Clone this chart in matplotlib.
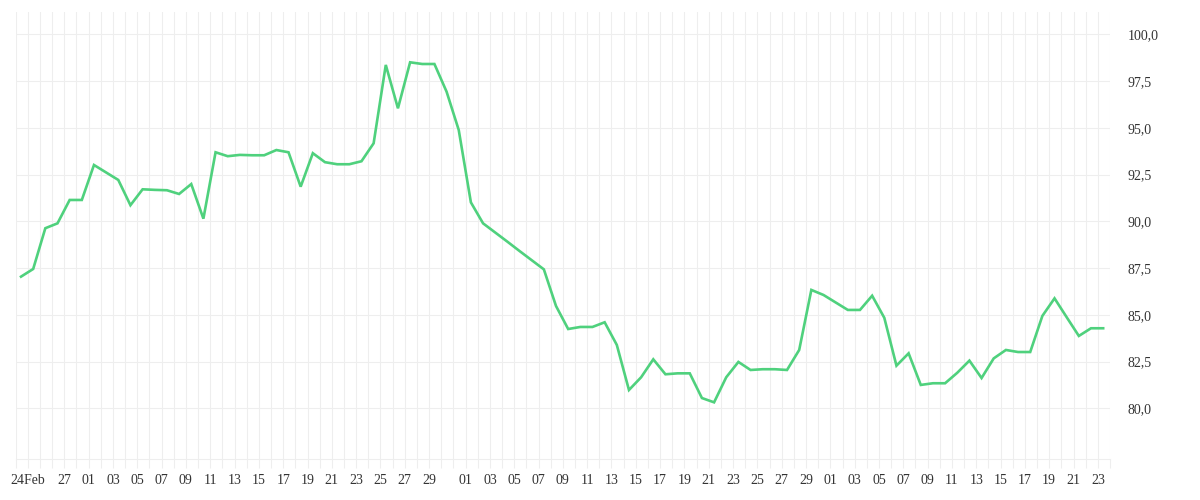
import numpy as np
import pandas as pd
import matplotlib
matplotlib.use("Agg")
import matplotlib.pyplot as plt
import matplotlib.dates as mdates
from matplotlib.ticker import FixedLocator, FuncFormatter

# daily values, first point 23 Feb 2023
start_day = "2023-02-23"
values = [
    87.04, 87.45, 89.63, 89.89, 91.14, 91.14, 93.01, 92.61, 92.21, 90.86,
    91.71, 91.68, 91.66, 91.46, 91.99, 90.14, 93.69, 93.48, 93.55, 93.53,
    93.53, 93.81, 93.69, 91.85, 93.64, 93.16, 93.05, 93.05, 93.21, 94.17,
    98.36, 96.04, 98.50, 98.41, 98.41, 96.93, 94.88, 91.01, 89.89, 89.40,
    88.91, 88.41, 87.92, 87.43, 85.47, 84.24, 84.35, 84.35, 84.60, 83.39,
    80.98, 81.66, 82.62, 81.82, 81.87, 81.87, 80.55, 80.32, 81.66, 82.48,
    82.05, 82.09, 82.09, 82.05, 83.12, 86.33, 86.06, 85.66, 85.26, 85.26,
    86.02, 84.84, 82.28, 82.94, 81.25, 81.34, 81.34, 81.90, 82.55, 81.62,
    82.67, 83.12, 83.01, 83.01, 84.94, 85.88, 84.87, 83.87, 84.28, 84.28,
]

tick_days = (["2023-02-24", "2023-02-27"]
             + [f"2023-03-{d:02d}" for d in range(1, 30, 2)]
             + [f"2023-04-{d:02d}" for d in range(1, 30, 2)]
             + [f"2023-05-{d:02d}" for d in range(1, 24, 2)])
y_ticks = [80.0, 82.5, 85.0, 87.5, 90.0, 92.5, 95.0, 97.5, 100.0]

line_color = "#4fd17d"
grid_color = "#eeeeee"
text_color = "#333333"

dates = pd.date_range(start_day, periods=len(values), freq="D")
x = mdates.date2num(dates + pd.Timedelta(hours=10.5))

fig = plt.figure(figsize=(12, 5), dpi=100)
ax = fig.add_axes([15.7 / 1200, 41 / 500, 1094.3 / 1200, 447 / 500])

ax.plot(x, values, color=line_color, lw=1.9, solid_joinstyle="miter", zorder=3)

ax.set_xlim(mdates.date2num(pd.Timestamp("2023-02-23")),
            mdates.date2num(pd.Timestamp("2023-05-24")))
ax.set_ylim(77.29, 101.19)

tick_pos = mdates.date2num(pd.to_datetime(tick_days))
tick_labels = ["24Feb"] + [pd.Timestamp(d).strftime("%d") for d in tick_days[1:]]
ax.xaxis.set_major_locator(FixedLocator(tick_pos))
ax.set_xticklabels(tick_labels)
ax.xaxis.set_minor_locator(mdates.DayLocator())

ax.yaxis.tick_right()
ax.yaxis.set_major_locator(FixedLocator(y_ticks))
ax.yaxis.set_major_formatter(FuncFormatter(lambda v, p: f"{v:.1f}".replace(".", ",")))

ax.grid(True, which="both", axis="x", color=grid_color, lw=0.8)
ax.grid(True, which="major", axis="y", color=grid_color, lw=0.8)
ax.set_axisbelow(True)

for side in ["top", "left", "right"]:
    ax.spines[side].set_visible(False)
ax.spines["bottom"].set_color(grid_color)
ax.spines["bottom"].set_linewidth(0.8)

ax.tick_params(axis="x", which="both", length=6.5, width=0.8, color=grid_color,
               pad=4, labelsize=10, labelcolor=text_color)
ax.tick_params(axis="y", length=0, pad=12.5, labelsize=10, labelcolor=text_color)
for lab in ax.get_xticklabels() + ax.get_yticklabels():
    lab.set_fontfamily("Liberation Serif")

fig.savefig("out.png", dpi=100)
